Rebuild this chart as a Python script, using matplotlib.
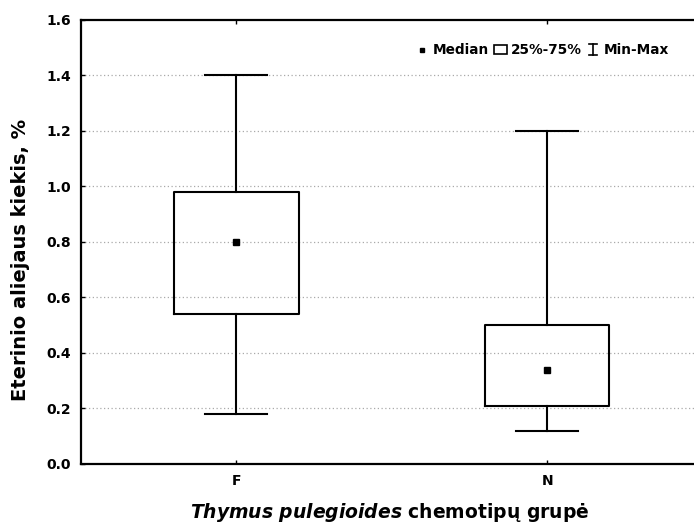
import numpy as np
import matplotlib
matplotlib.use("Agg")
from matplotlib import pyplot as plt
from matplotlib.patches import Rectangle
from matplotlib.lines import Line2D
from matplotlib.legend_handler import HandlerBase

plt.rcParams['font.family'] = ['DejaVu Sans']
plt.rcParams['mathtext.fontset'] = 'custom'
plt.rcParams['mathtext.it'] = 'DejaVu Sans:italic:bold'

# chemotype groups and oil content summary (%)
groups = ['F', 'N']
mins = [0.18, 0.12]
q1 = [0.54, 0.21]
medians = [0.80, 0.34]
q3 = [0.98, 0.50]
maxs = [1.40, 1.20]


class HandlerMinMax(HandlerBase):
    # little I-beam for the min-max whisker entry
    def create_artists(self, legend, orig_handle, xd, yd, width, height, fontsize, trans):
        cx = xd + width / 2
        top = yd + height * 1.05
        bot = yd - height * 0.1
        w = width * 0.3
        lines = [
            Line2D([cx, cx], [bot, top]),
            Line2D([cx - w, cx + w], [top, top]),
            Line2D([cx - w, cx + w], [bot, bot]),
        ]
        for l in lines:
            l.set_color('black')
            l.set_linewidth(1.2)
            l.set_transform(trans)
        return lines


fig = plt.figure(figsize=(6.94, 5.29), dpi=100)
ax = fig.add_axes([0.1167, 0.1229, 0.8956, 0.8393])

stats = []
for i, g in enumerate(groups):
    stats.append(dict(label=g, whislo=mins[i], q1=q1[i], med=medians[i],
                      q3=q3[i], whishi=maxs[i], fliers=[]))

pos = np.arange(1, len(groups) + 1)
ax.bxp(stats, positions=pos, widths=0.4, capwidths=0.2, showfliers=False,
       boxprops=dict(color='black', linewidth=1.5),
       whiskerprops=dict(color='black', linewidth=1.5),
       capprops=dict(color='black', linewidth=1.5),
       medianprops=dict(visible=False))
ax.plot(pos, medians, 's', color='black', markersize=4, zorder=5)

ax.set_xlim(0.5, 2.5)
ax.set_ylim(0, 1.6)
ax.set_xticks(pos)
ax.set_xticklabels(groups)
ax.set_yticks(np.arange(0, 1.61, 0.2))
ax.set_yticklabels(['%.1f' % v for v in np.arange(0, 1.61, 0.2)])
ax.tick_params(direction='in', length=3, width=1, top=True, right=False,
               labelsize=10, pad=7)
for lab in ax.get_xticklabels() + ax.get_yticklabels():
    lab.set_fontweight('bold')

for y in np.arange(0.2, 1.41, 0.2):
    ax.axhline(y, color='#aaaaaa', linestyle=(0, (1, 2)), linewidth=0.9, zorder=0)

for s in ax.spines.values():
    s.set_linewidth(1.6)

ax.set_ylabel('Eterinio aliejaus kiekis, %', fontsize=14, fontweight='bold')
ax.yaxis.set_label_coords(-0.082, 0.46)
ax.set_xlabel(r'$\it{Thymus\ pulegioides}$' + ' chemotipų grupė',
              fontsize=13.5, fontweight='bold')
ax.xaxis.set_label_coords(0.496, -0.083)

h_med = Line2D([], [], marker='s', color='black', linestyle='none', markersize=3)
h_box = Rectangle((0, 0), 1, 1, facecolor='white', edgecolor='black', linewidth=1.2)
h_mm = object()
leg = ax.legend([h_med, h_box, h_mm], ['Median', '25%-75%', 'Min-Max'],
                handler_map={object: HandlerMinMax()},
                loc='upper right', bbox_to_anchor=(0.965, 0.975), ncol=3,
                frameon=False, handlelength=0.9, handletextpad=0.3,
                columnspacing=0.4, prop=dict(size=9.8, weight='bold'))

fig.savefig('out.png', dpi=100)
